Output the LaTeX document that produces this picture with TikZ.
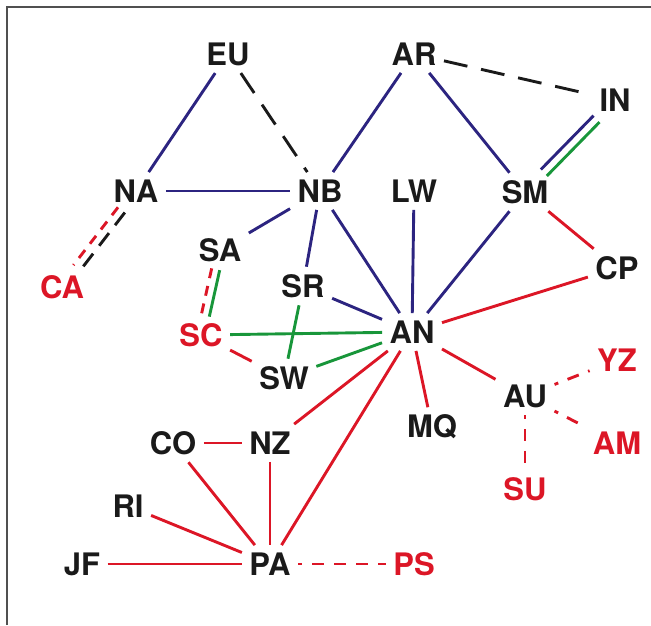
\documentclass[tikz,border=0pt]{standalone}
\usepackage{fontspec}
\setmainfont{TeX Gyre Heros}
\definecolor{ink}{RGB}{26,26,26}
\definecolor{rd}{RGB}{220,22,38}
\definecolor{nv}{RGB}{44,36,128}
\definecolor{gn}{RGB}{24,150,58}
\definecolor{framegray}{RGB}{80,80,80}
\begin{document}
\begin{tikzpicture}[x=0.5pt,y=-0.5pt,
  lbl/.style={font=\fontsize{15.5pt}{16pt}\selectfont\bfseries, inner sep=3.8pt, outer sep=0pt, text=ink},
  redlbl/.style={lbl, text=rd},
  bl/.style={draw=nv, line width=1.45pt},
  rl/.style={draw=rd, line width=1.45pt},
  gl/.style={draw=gn, line width=1.45pt},
  kdash/.style={draw=ink, line width=1.45pt, dash pattern=on 12pt off 7pt},
  rdash/.style={draw=rd, line width=1.45pt, dash pattern=on 5pt off 4pt},
  rdot/.style={draw=rd, line width=1.45pt, dash pattern=on 6pt off 5pt, dash phase=4pt},
]
\useasboundingbox (0,0) rectangle (651,625);
% frame
\draw[framegray, line width=1pt] (7,625) -- (7,7) -- (651,7);

% nodes
\node[lbl] (EU) at (228,54) {EU};
\node[lbl] (AR) at (414,54) {AR};
\node[lbl] (IN) at (615,100) {IN};
\node[lbl] (NA) at (136,191) {NA};
\node[lbl] (NB) at (320,191) {NB};
\node[lbl] (LW) at (414,191) {LW};
\node[lbl] (SM) at (525,192) {SM};
\node[lbl] (SA) at (220,250) {SA};
\node[lbl] (CP) at (617,268) {CP};
\node[redlbl] (CA) at (62,287) {CA};
\node[lbl] (SR) at (303,286) {SR};
\node[redlbl] (SC) at (201,335) {SC};
\node[lbl] (AN) at (412,332) {AN};
\node[lbl] (SW) at (284,378) {SW};
\node[redlbl] (YZ) at (617,360) {YZ};
\node[lbl] (AU) at (525,396) {AU};
\node[lbl] (MQ) at (432,427) {MQ};
\node[redlbl] (AM) at (617,443) {AM};
\node[lbl] (CO) at (173,443) {CO};
\node[lbl] (NZ) at (270,443) {NZ};
\node[redlbl] (SU) at (525,489) {SU};
\node[lbl] (RI) at (128,506) {RI};
\node[lbl] (JF) at (82,564) {JF};
\node[lbl] (PA) at (270,564) {PA};
\node[redlbl] (PS) at (414,564) {PS};

% blue links
\draw[bl] (EU) -- (NA);
\draw[bl] (NA) -- (NB);
\draw[bl] (AR) -- (NB);
\draw[bl] (AR) -- (SM);
\draw[bl] (NB) -- (SA);
\draw[bl] (NB) -- (SR);
\draw[bl] (NB) -- (AN);
\draw[bl] (LW) -- (AN);
\draw[bl] (SM) -- (AN);
\draw[bl] (SR) -- (AN);
\draw[bl, transform canvas={shift={(-1.5pt,1.6pt)}}] (SM) -- (IN);
\draw[gl, transform canvas={shift={(1.5pt,-1.6pt)}}] (SM) -- (IN);

% black dashed links
\draw[kdash] (EU) -- (NB);
\draw[kdash] (AR) -- (IN);
\draw[kdash, dash pattern=on 8pt off 5pt, transform canvas={shift={(1.7pt,-1.3pt)}}] (NA) -- (CA);
\draw[rdash, transform canvas={shift={(-1.7pt,1.3pt)}}] (NA) -- (CA);

% SA -- SC pair
\draw[rdash, transform canvas={shift={(-2pt,0.45pt)}}] (SA) -- (SC);
\draw[gl, transform canvas={shift={(2pt,-0.45pt)}}] (SA) -- (SC);

% green links
\draw[gl] (SC) -- (AN);
\draw[gl] (SR) -- (SW);
\draw[gl] (SW) -- (AN);

% red links
\draw[rl] (SM) -- (CP);
\draw[rl] (CP) -- (AN);
\draw[rl] (SC) -- (SW);
\draw[rl] (AN) -- (NZ);
\draw[rl] (AN) -- (PA);
\draw[rl] (AN) -- (MQ);
\draw[rl] (AN) -- (AU);
\draw[rl] (CO) -- (NZ);
\draw[rl] (CO) -- (PA);
\draw[rl] (NZ) -- (PA);
\draw[rl] (RI) -- (PA);
\draw[rl] (JF) -- (PA);

% red dashed links
\draw[rdot] (AU) -- (YZ);
\draw[rdot] (AU) -- (AM);
\draw[rdot] (AU) -- (SU);
\draw[rdot] (PA) -- (PS);
\end{tikzpicture}
\end{document}
